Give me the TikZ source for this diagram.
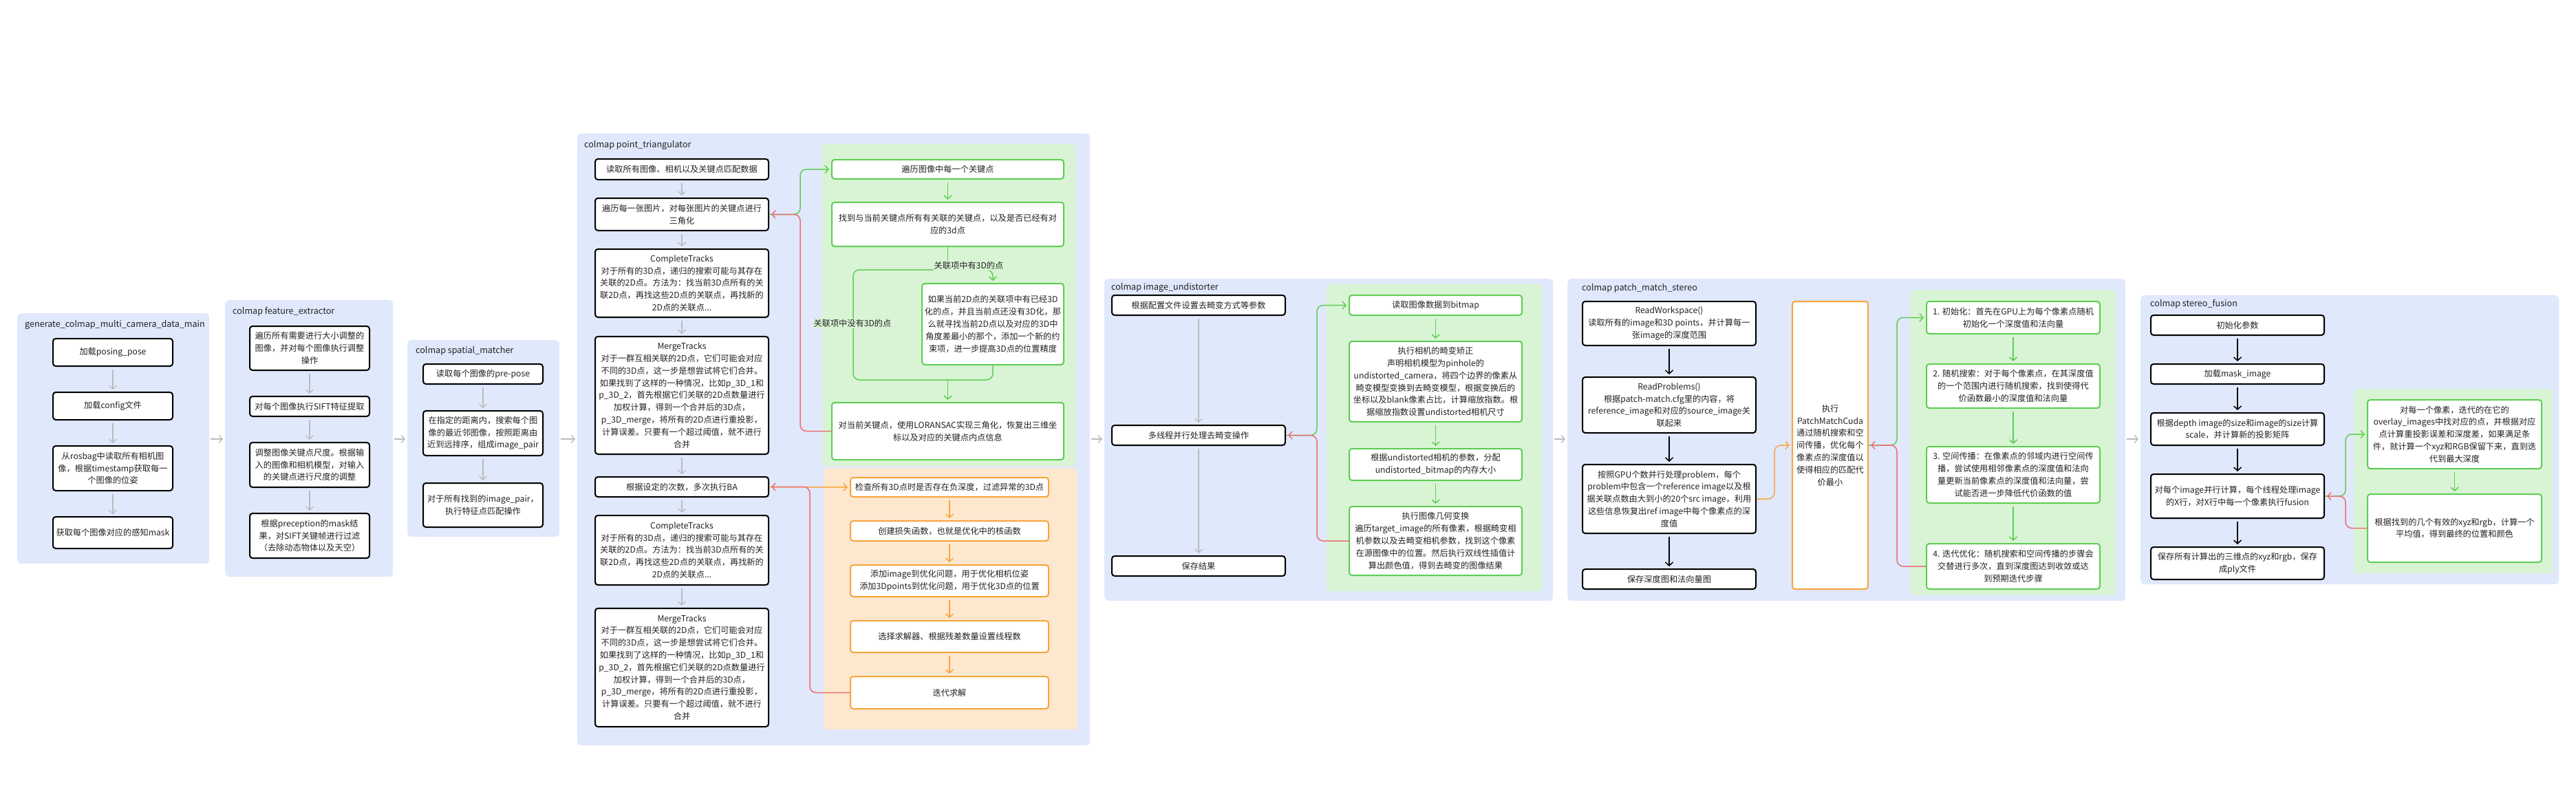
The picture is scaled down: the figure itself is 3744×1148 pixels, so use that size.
\documentclass[tikz,border=0pt]{standalone}
\usepackage{fontspec}
\setmainfont{Noto Sans CJK SC}
\usetikzlibrary{positioning,arrows.meta}
\definecolor{panelblue}{HTML}{E0E8FC}
\definecolor{panelgreen}{HTML}{D9F4D5}
\definecolor{panelorange}{HTML}{FDE8CF}
\definecolor{linegreen}{HTML}{5FCD55}
\definecolor{lineorange}{HTML}{F7A53C}
\definecolor{linered}{HTML}{EC6F6F}
\definecolor{linegray}{HTML}{BBBBBB}
\definecolor{ink}{HTML}{222222}

\begin{document}
\begin{tikzpicture}[x=1pt, y=-1pt,
  font=\fontsize{12.2}{17.8}\selectfont,
  panel/.style={fill=panelblue, rounded corners=6pt, anchor=north west, inner sep=0pt},
  greenpanel/.style={panel, fill=panelgreen},
  orangepanel/.style={panel, fill=panelorange},
  title/.style={anchor=west, text=ink, inner sep=0pt, font=\fontsize{12.6}{15}\selectfont},
  box/.style={draw=black, line width=2pt, fill=white, rounded corners=4pt, align=center,
    text=ink, inner xsep=1pt, inner ysep=2pt, anchor=north},
  gbox/.style={box, draw=linegreen},
  obox/.style={box, draw=lineorange},
  narrow/.style={minimum width=174pt},
  wide/.style={minimum width=252pt},
  tip/.style={-{Straight Barb[length=5pt,width=11pt]}},
  flow/.style={tip, line width=1.5pt, shorten <=4pt, shorten >=3pt},
  grayflow/.style={flow, draw=linegray, line width=1.3pt},
  blackflow/.style={flow, draw=black},
  greenflow/.style={flow, draw=linegreen},
  orangeflow/.style={flow, draw=lineorange},
  loopline/.style={line width=1.5pt, rounded corners=9pt},
  greenloop/.style={loopline, tip, draw=linegreen, shorten >=3pt},
  redloop/.style={loopline, tip, draw=linered, shorten >=3pt},
  orangeloop/.style={loopline, tip, draw=lineorange, shorten >=3pt},
  greenline/.style={loopline, draw=linegreen},
  elabel/.style={fill=panelgreen, inner sep=1pt, text=ink}
]
\useasboundingbox (0,0) rectangle (3744,1148);
\fill[white] (0,0) rectangle (3744,1148);

\node (g1) [panel, minimum width=279pt, minimum height=364pt] at (25,455) {};
\node (g2) [panel, minimum width=244pt, minimum height=402pt] at (327,436) {};
\node (g3) [panel, minimum width=221pt, minimum height=286pt] at (592,494) {};
\node (g4) [panel, minimum width=745pt, minimum height=889pt] at (839,194) {};
\node (g5) [panel, minimum width=652pt, minimum height=468pt] at (1605,405) {};
\node (g6) [panel, minimum width=811pt, minimum height=468pt] at (2278,405) {};
\node (g7) [panel, minimum width=608pt, minimum height=420pt] at (3111,429) {};
\node (g4a) [greenpanel, minimum width=368pt, minimum height=468pt] at (1195,209) {};
\node (g4b) [orangepanel, minimum width=369pt, minimum height=380pt] at (1197,680) {};
\node (g5a) [greenpanel, minimum width=314pt, minimum height=446pt] at (1928,413) {};
\node (g6a) [greenpanel, minimum width=298pt, minimum height=444pt] at (2777,421) {};
\node (g7a) [greenpanel, minimum width=289pt, minimum height=268pt] at (3421,565) {};

\node (t1) [title] at (36,472) {generate\_colmap\_multi\_camera\_data\_main};
\node (t2) [title] at (338,453) {colmap feature\_extractor};
\node (t3) [title] at (604,510) {colmap spatial\_matcher};
\node (t4) [title] at (849,211) {colmap point\_triangulator};
\node (t5) [title] at (1615,418) {colmap image\_undistorter};
\node (t6) [title] at (2299,419) {colmap patch\_match\_stereo};
\node (t7) [title] at (3125,442) {colmap stereo\_fusion};

\node (a1) [box, narrow, minimum height=40pt] at (164,491) {加载posing\_pose};
\node (a2) [box, narrow, minimum height=40pt, below=36pt of a1] {加载config文件};
\node (a3) [box, narrow, minimum height=65pt, below=36pt of a2] {从rosbag中读取所有相机图\\像，根据timestamp获取每一\\个图像的位姿};
\node (a4) [box, narrow, minimum height=46pt, below=36pt of a3] {获取每个图像对应的感知mask};

\node (b1) [box, narrow, minimum height=64pt] at (450,473) {遍历所有需要进行大小调整的\\图像，并对每个图像执行调整\\操作};
\node (b2) [box, narrow, minimum height=29pt, below=36pt of b1] {对每个图像执行SIFT特征提取};
\node (b3) [box, narrow, minimum height=65pt, below=36pt of b2] {调整图像关键点尺度。根据输\\入的图像和相机模型，对输入\\的关键点进行尺度的调整};
\node (b4) [box, narrow, minimum height=65pt, below=36pt of b3] {根据preception的mask结\\果，对SIFT关键帧进行过滤\\（去除动态物体以及天空）};

\node (c1) [box, narrow, minimum height=29pt] at (702,528) {读取每个图像的pre-pose};
\node (c2) [box, narrow, minimum height=65pt, below=37pt of c1] {在指定的距离内，搜索每个图\\像的最近邻图像，按照距离由\\近到远排序，组成image\_pair};
\node (c3) [box, narrow, minimum height=64pt, below=38pt of c2] {对于所有找到的image\_pair，\\执行特征点匹配操作};

\node (d1) [box, wide, minimum height=30pt] at (991,230) {读取所有图像、相机以及关键点匹配数据};
\node (d2) [box, wide, minimum height=47pt, below=25pt of d1] {遍历每一张图片，对每张图片的关键点进行\\三角化};
\node (d3) [box, wide, minimum height=99pt, below=25pt of d2] {CompleteTracks\\对于所有的3D点，递归的搜索可能与其存在\\关联的2D点。方法为：找当前3D点所有的关\\联2D点，再找这些2D点的关联点，再找新的\\2D点的关联点...};
\node (d4) [box, wide, minimum height=171pt, below=26pt of d3] {MergeTracks\\对于一群互相关联的2D点，它们可能会对应\\不同的3D点，这一步是想尝试将它们合并。\\如果找到了这样的一种情况，比如p\_3D\_1和\\p\_3D\_2，首先根据它们关联的2D点数量进行\\加权计算，得到一个合并后的3D点，\\p\_3D\_merge，将所有的2D点进行重投影，\\计算误差。只要有一个超过阈值，就不进行\\合并};
\node (d5) [box, wide, minimum height=29pt, below=31pt of d4] {根据设定的次数，多次执行BA};
\node (d6) [box, wide, minimum height=101pt, below=25pt of d5] {CompleteTracks\\对于所有的3D点，递归的搜索可能与其存在\\关联的2D点。方法为：找当前3D点所有的关\\联2D点，再找这些2D点的关联点，再找新的\\2D点的关联点...};
\node (d7) [box, wide, minimum height=172pt, below=32pt of d6] {MergeTracks\\对于一群互相关联的2D点，它们可能会对应\\不同的3D点，这一步是想尝试将它们合并。\\如果找到了这样的一种情况，比如p\_3D\_1和\\p\_3D\_2，首先根据它们关联的2D点数量进行\\加权计算，得到一个合并后的3D点，\\p\_3D\_merge，将所有的2D点进行重投影，\\计算误差。只要有一个超过阈值，就不进行\\合并};

\node (e1) [gbox, minimum width=337pt, minimum height=28pt] at (1377.5,231) {遍历图像中每一个关键点};
\node (e2) [gbox, minimum width=337pt, minimum height=64pt, below=32pt of e1] {找到与当前关键点所有有关联的关键点，以及是否已经有对\\应的3d点};
\node (e3) [gbox, minimum width=206pt, minimum height=118pt] at (1443,411) {如果当前2D点的关联项中有已经3D\\化的点，并且当前点还没有3D化，那\\么就寻找当前2D点以及对应的3D中\\角度差最小的那个，添加一个新的约\\束项，进一步提高3D点的位置精度};
\node (e4) [gbox, minimum width=337pt, minimum height=83pt] at (1377.5,584) {对当前关键点，使用LORANSAC实现三角化，恢复出三维坐\\标以及对应的关键点内点信息};

\node (f1) [obox, minimum width=288pt, minimum height=28pt] at (1380,693) {检查所有3D点时是否存在负深度，过滤异常的3D点};
\node (f2) [obox, minimum width=288pt, minimum height=29pt, below=33pt of f1] {创建损失函数，也就是优化中的核函数};
\node (f3) [obox, minimum width=288pt, minimum height=46pt, below=33pt of f2] {添加image到优化问题，用于优化相机位姿\\添加3Dpoints到优化问题，用于优化3D点的位置};
\node (f4) [obox, minimum width=288pt, minimum height=46pt, below=33pt of f3] {选择求解器、根据残差数量设置线程数};
\node (f5) [obox, minimum width=288pt, minimum height=47pt, below=33pt of f4] {迭代求解};

\node (k1) [box, wide, minimum height=29pt] at (1742,428) {根据配置文件设置去畸变方式等参数};
\node (k2) [box, wide, minimum height=29pt, below=158pt of k1] {多线程并行处理去畸变操作};
\node (k3) [box, wide, minimum height=29pt, below=159pt of k2] {保存结果};

\node (u1) [gbox, minimum width=251pt, minimum height=29pt] at (2086.5,428) {读取图像数据到bitmap};
\node (u2) [gbox, minimum width=251pt, minimum height=117pt, below=36pt of u1] {执行相机的畸变矫正\\声明相机模型为pinhole的\\undistorted\_camera，将四个边界的像素从\\畸变模型变换到去畸变模型，根据变换后的\\坐标以及blank像素占比，计算缩放指数。根\\据缩放指数设置undistorted相机尺寸};
\node (u3) [gbox, minimum width=251pt, minimum height=46pt, below=37pt of u2] {根据undistorted相机的参数，分配\\undistorted\_bitmap的内存大小};
\node (u4) [gbox, minimum width=251pt, minimum height=100pt, below=36pt of u3] {执行图像几何变换\\遍历target\_image的所有像素，根据畸变相\\机参数以及去畸变相机参数，找到这个像素\\在源图像中的位置。然后执行双线性插值计\\算出颜色值，得到去畸变的图像结果};

\node (p1) [box, wide, minimum height=64pt] at (2426,437) {ReadWorkspace()\\读取所有的image和3D points，并计算每一\\张image的深度范围};
\node (p2) [box, wide, minimum height=81pt, below=44pt of p1] {ReadProblems()\\根据patch-match.cfg里的内容，将\\reference\_image和对应的source\_image关\\联起来};
\node (p3) [box, wide, minimum height=100pt, below=44pt of p2] {按照GPU个数并行处理problem，每个\\problem中包含一个reference image以及根\\据关联点数由大到小的20个src image，利用\\这些信息恢复出ref image中每个像素点的深\\度值};
\node (p4) [box, wide, minimum height=29pt, below=50pt of p3] {保存深度图和法向量图};

\node (t) [obox, minimum width=110pt, minimum height=418pt] at (2660,437) {执行\\PatchMatchCuda\\通过随机搜索和空\\间传播，优化每个\\像素点的深度值以\\使得相应的匹配代\\价最小};

\node (s1) [gbox, wide, minimum height=47pt] at (2926,437) {1. 初始化：首先在GPU上为每个像素点随机\\初始化一个深度值和法向量};
\node (s2) [gbox, wide, minimum height=64pt, below=42pt of s1] {2. 随机搜索：对于每个像素点，在其深度值\\的一个范围内进行随机搜索，找到使得代\\价函数最小的深度值和法向量};
\node (s3) [gbox, wide, minimum height=82pt, below=54pt of s2] {3. 空间传播：在像素点的邻域内进行空间传\\播，尝试使用相邻像素点的深度值和法向\\量更新当前像素点的深度值和法向量，尝\\试能否进一步降低代价函数的值};
\node (s4) [gbox, wide, minimum height=66pt, below=57pt of s3] {4. 迭代优化：随机搜索和空间传播的步骤会\\交替进行多次，直到深度图达到收敛或达\\到预期迭代步骤};

\node (m1) [box, wide, minimum height=29pt] at (3252,457) {初始化参数};
\node (m2) [box, wide, minimum height=29pt, below=40pt of m1] {加载mask\_image};
\node (m3) [box, wide, minimum height=47pt, below=40pt of m2] {根据depth image的size和image的size计算\\scale，并计算新的投影矩阵};
\node (m4) [box, wide, minimum height=64pt, below=40pt of m3] {对每个image并行计算，每个线程处理image\\的X行，对X行中每一个像素执行fusion};
\node (m5) [box, wide, minimum height=47pt, below=40pt of m4] {保存所有计算出的三维点的xyz和rgb，保存\\成ply文件};

\node (n1) [gbox, minimum width=253pt, minimum height=100pt] at (3567.5,580) {对每一个像素，迭代的在它的\\overlay\_images中找对应的点，并根据对应\\点计算重投影误差和深度差，如果满足条\\件，就计算一个xyz和RGB保留下来，直到迭\\代到最大深度};
\node (n2) [gbox, minimum width=253pt, minimum height=99pt, below=35pt of n1] {根据找到的几个有效的xyz和rgb，计算一个\\平均值，得到最终的位置和颜色};

\coordinate (mid) at (0,638);
\path (g1.east |- mid) edge [grayflow, shorten <=2pt] (g2.west |- mid)
      (g2.east |- mid) edge [grayflow, shorten <=2pt] (g3.west |- mid)
      (g3.east |- mid) edge [grayflow, shorten <=2pt] (g4.west |- mid)
      (g4.east |- mid) edge [grayflow, shorten <=2pt] (g5.west |- mid)
      (g5.east |- mid) edge [grayflow, shorten <=2pt] (g6.west |- mid)
      (g6.east |- mid) edge [grayflow, shorten <=2pt] (g7.west |- mid);

\path (a1) edge [grayflow] (a2)
      (a2) edge [grayflow] (a3)
      (a3) edge [grayflow] (a4)
      (b1) edge [grayflow] (b2)
      (b2) edge [grayflow] (b3)
      (b3) edge [grayflow] (b4)
      (c1) edge [grayflow] (c2)
      (c2) edge [grayflow] (c3)
      (d1) edge [grayflow] (d2)
      (d2) edge [grayflow] (d3)
      (d3) edge [grayflow] (d4)
      (d4) edge [grayflow] (d5)
      (d5) edge [grayflow] (d6)
      (d6) edge [grayflow] (d7)
      (k1) edge [grayflow] (k2)
      (k2) edge [grayflow] (k3);

\path (e1) edge [greenflow] (e2)
      (f1) edge [orangeflow] (f2)
      (f2) edge [orangeflow] (f3)
      (f3) edge [orangeflow] (f4)
      (f4) edge [orangeflow] (f5)
      (u1) edge [greenflow] (u2)
      (u2) edge [greenflow] (u3)
      (u3) edge [greenflow] (u4)
      (p1) edge [blackflow] (p2)
      (p2) edge [blackflow] (p3)
      (p3) edge [blackflow] (p4)
      (s1) edge [greenflow] (s2)
      (s2) edge [greenflow] (s3)
      (s3) edge [greenflow] (s4)
      (m1) edge [blackflow] (m2)
      (m2) edge [blackflow] (m3)
      (m3) edge [blackflow] (m4)
      (m4) edge [blackflow] (m5)
      (n1) edge [greenflow] (n2);

\coordinate (split) at (1377.5,392);
\coordinate (join) at (1377.5,552);
\draw[greenline] (e2.south) -- (split);
\draw[greenloop] (split) -| (e3.north);
\draw[greenline] (split) -| (1240,470) |- (join);
\draw[greenline] (e3.south) |- (join);
\draw[greenloop] (join) -- (e4.north);
\node (yes) [elabel] at (1408,386) {关联项中有3D的点};
\node (no) [elabel] at (1239,470) {关联项中没有3D的点};

\coordinate (r4) at ([xshift=45pt]d2.east);
\draw[greenloop] (d2.east) -- (r4) |- (e1.west);
\draw[redloop] (e4.west) -| (r4) -- (d2.east);
\draw[orangeloop] (d5.east) -- (f1.west);
\coordinate (r4b) at ([xshift=59pt]d5.east);
\draw[redloop] (f5.west) -| (r4b) -- (d5.east);

\coordinate (r5) at ([xshift=45pt]k2.east);
\draw[greenloop] (k2.east) -- (r5) |- (u1.west);
\draw[redloop] (u4.west) -| (r5) -- (k2.east);

\draw[orangeloop] (p3.east) -- ++(26pt,0) |- (t.west);
\coordinate (r6) at ([xshift=41pt]t.east);
\draw[greenloop] (t.east) -- (r6) |- (s1.west);
\draw[redloop] (s4.west) -| (r6) -- (t.east);

\coordinate (r7) at ([xshift=30pt]m4.east);
\draw[greenloop] (m4.east) -- (r7) |- (n1.west);
\draw[redloop] (n2.west) -| (r7) -- (m4.east);
\end{tikzpicture}
\end{document}
